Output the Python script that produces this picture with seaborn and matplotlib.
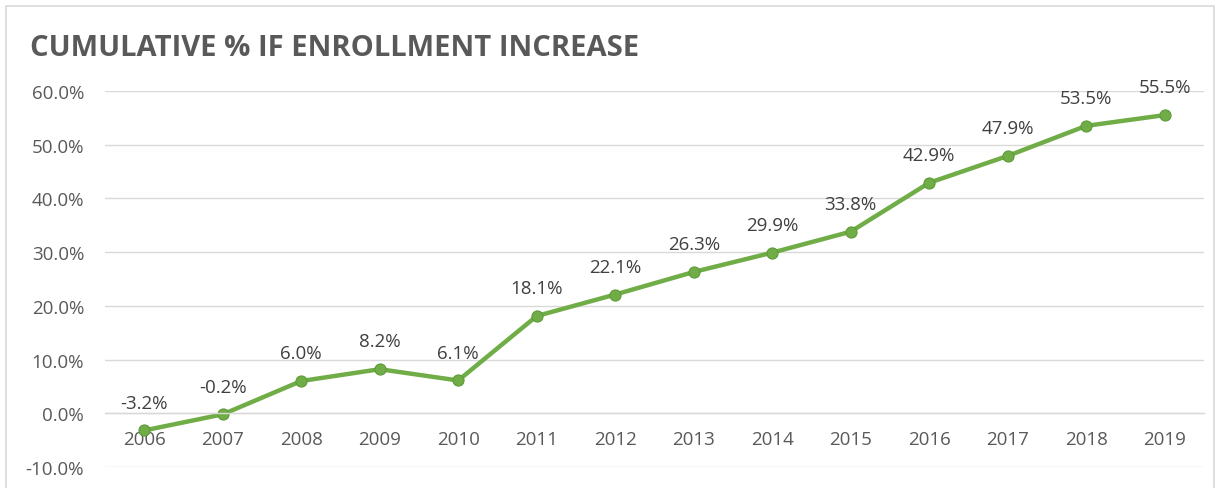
import matplotlib
matplotlib.use("Agg")
import matplotlib.pyplot as plt
import seaborn as sns
import pandas as pd
from matplotlib.patches import Rectangle

years = ["2006", "2007", "2008", "2009", "2010", "2011", "2012", "2013",
         "2014", "2015", "2016", "2017", "2018", "2019"]
values = [-3.2, -0.2, 6.0, 8.2, 6.1, 18.1, 22.1, 26.3, 29.9, 33.8, 42.9, 47.9, 53.5, 55.5]
yticks = [-10, 0, 10, 20, 30, 40, 50, 60]
title = "CUMULATIVE % IF ENROLLMENT INCREASE"

df = pd.DataFrame({"year": years, "value": values})

sns.set_theme(style="white")
plt.rcParams["font.family"] = ["Open Sans", "DejaVu Sans"]

fig = plt.figure(figsize=(12.21, 4.89), dpi=100)
ax = fig.add_axes([0.086, 0.043, 0.9, 0.769])

green = "#70AD47"
sns.lineplot(data=df, x="year", y="value", ax=ax, color=green, linewidth=3.2,
             marker="o", markersize=8, markeredgecolor="#5E9A3A", markeredgewidth=0.8,
             sort=False)

ax.set_xlim(-0.5, len(years) - 0.5)
ax.set_ylim(-10, 60)
ax.set_yticks(yticks)
ax.set_yticklabels([f"{t:.1f}%" for t in yticks])
ax.yaxis.grid(True, color="#D9D9D9", linewidth=1)
ax.set_axisbelow(True)
for s in ["top", "right", "left"]:
    ax.spines[s].set_visible(False)
ax.spines["bottom"].set_position(("data", 0))
ax.spines["bottom"].set_color("#D9D9D9")
ax.spines["bottom"].set_linewidth(1)
ax.tick_params(axis="both", length=0, labelsize=13.5, labelcolor="#595959")
ax.tick_params(axis="x", pad=12)
ax.tick_params(axis="y", pad=15)
ax.set_xlabel("")
ax.set_ylabel("")

for i, v in enumerate(values):
    ax.annotate(f"{v:.1f}%", (i, v), xytext=(0, 20), textcoords="offset points",
                ha="center", va="center", fontsize=13.5, color="#404040")

fig.text(30 / 1221, 1 - 49 / 489, title, fontsize=21, fontweight="bold",
         color="#595959", ha="left", va="center")

fig.patches.append(Rectangle((6 / 1221, -0.02), 1208 / 1221, 1 - 7 / 489 + 0.02,
                             transform=fig.transFigure, fill=False,
                             edgecolor="#D9D9D9", linewidth=1.2))

fig.savefig("out.png", dpi=100)
